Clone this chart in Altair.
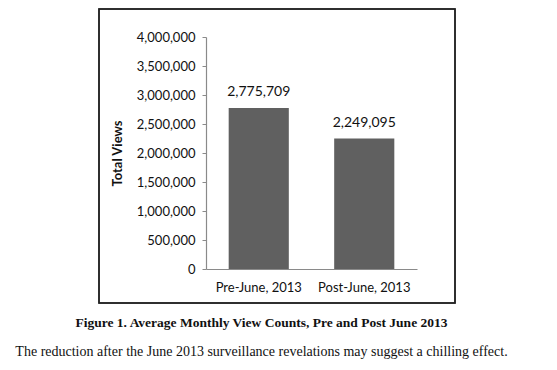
import altair as alt
import pandas as pd

categories = ["Pre-June, 2013", "Post-June, 2013"]
views = [2775709, 2249095]
labels = ["2,775,709", "2,249,095"]
y_ticks = [0, 500000, 1000000, 1500000, 2000000, 2500000, 3000000, 3500000, 4000000]

df = pd.DataFrame({"period": categories, "views": views, "label": labels})

x_enc = alt.X("period:N", sort=categories, title=None,
              scale=alt.Scale(paddingInner=0.43, paddingOuter=0.215),
              axis=alt.Axis(labelAngle=0, labelFont="Lato", labelFontSize=13,
                            labelColor="#111111", ticks=False, labelPadding=12,
                            domainColor="#8a8a8a", domainWidth=1.2))
y_enc = alt.Y("views:Q", title="Total Views",
              scale=alt.Scale(domain=[0, 4000000], nice=False),
              axis=alt.Axis(values=y_ticks, format=",d", grid=False, labelOverlap=False,
                            labelFont="Lato", labelFontSize=13, labelColor="#111111",
                            tickSize=4, tickColor="#8a8a8a", domainColor="#8a8a8a",
                            domainWidth=1.2, labelPadding=7,
                            titleFont="Lato", titleFontSize=13, titleFontWeight="bold",
                            titleColor="#111111", titlePadding=12))

bars = alt.Chart(df).mark_bar(color="#606060").encode(x=x_enc, y=y_enc)
text = alt.Chart(df).mark_text(font="Lato", fontSize=14, color="#111111",
                               baseline="bottom", dy=-9).encode(
    x=x_enc, y=y_enc, text="label:N")
box = alt.Chart(df).mark_rect(fillOpacity=0, stroke="#222222", strokeWidth=1.5).encode(
    x=alt.value(-107), x2=alt.value(249), y=alt.value(-28), y2=alt.value(266))

chart = alt.layer(box, bars, text).properties(
    width=211, height=232,
    autosize=alt.AutoSizeParams(type="none"),
    padding={"left": 198, "top": 29, "right": 130, "bottom": 93},
    view=alt.ViewBackground(stroke="transparent", strokeWidth=0),
    title=alt.TitleParams(
        text="Figure 1. Average Monthly View Counts, Pre and Post June 2013",
        subtitle="The reduction after the June 2013 surveillance revelations may suggest a chilling effect.",
        orient="bottom", anchor="middle", frame="group", dx=-50, offset=12,
        font="Liberation Serif", fontSize=13.5, fontWeight="bold", color="#111111",
        subtitleFont="Liberation Serif", subtitleFontSize=14, subtitleColor="#111111",
        subtitlePadding=16)
).configure_view(stroke="transparent", strokeWidth=0).configure(background="white")

chart.save("out.html", embed_options={"renderer": "svg", "actions": False})
